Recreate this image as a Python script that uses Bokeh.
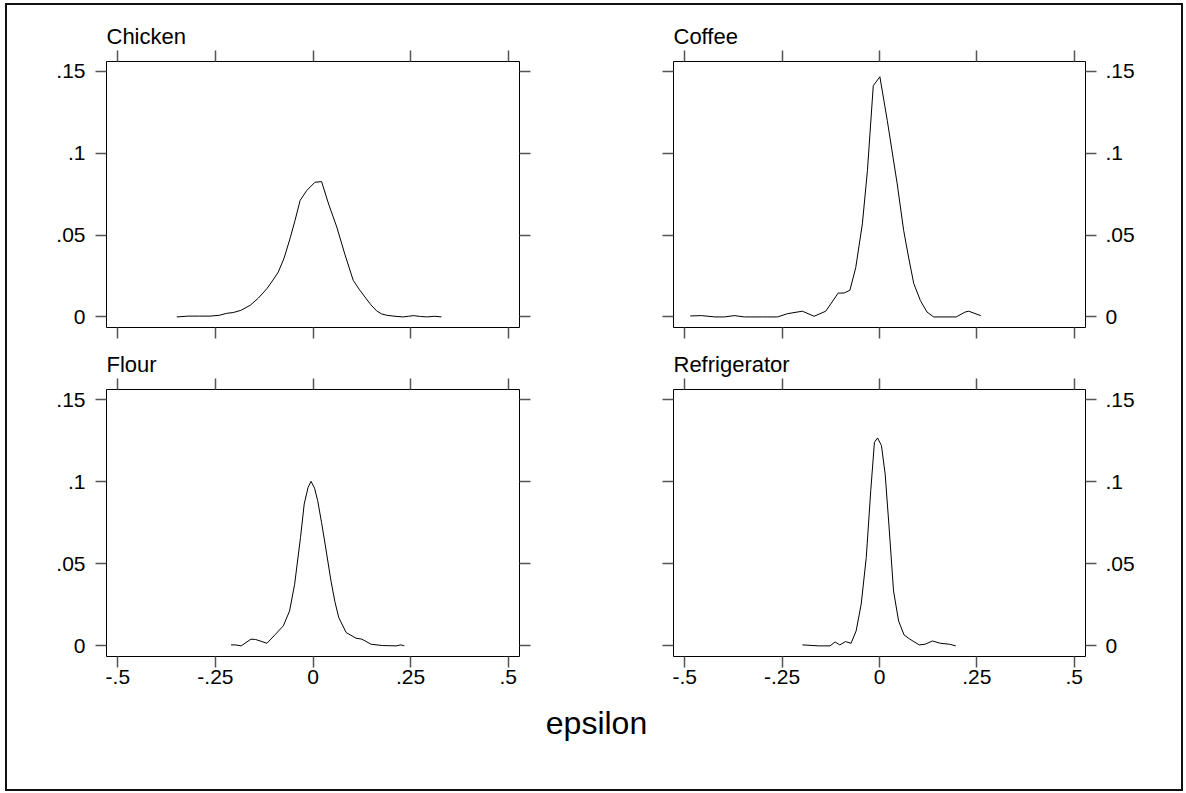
from bokeh.plotting import figure
from bokeh.models import Range1d, LinearAxis, FixedTicker, Label
from bokeh.layouts import column, row
from bokeh.embed import file_html
from bokeh.resources import INLINE

# ---------------- data ----------------
x_ticks = [-0.5, -0.25, 0, 0.25, 0.5]
x_tick_labels = ["-.5", "-.25", "0", ".25", ".5"]
y_ticks = [0, 0.05, 0.1, 0.15]
y_tick_labels = ["0", ".05", ".1", ".15"]

panel_titles = ["Chicken", "Coffee", "Flour", "Refrigerator"]
x_axis_title = "epsilon"

chicken_x = [-0.349, -0.32, -0.29, -0.264, -0.240, -0.221, -0.204, -0.185, -0.161, -0.140,
             -0.118, -0.104, -0.089, -0.074, -0.059, -0.046, -0.033, -0.016, 0.005, 0.022,
             0.040, 0.061, 0.082, 0.103, 0.118, 0.133, 0.148, 0.163, 0.176, 0.189,
             0.210, 0.231, 0.245, 0.257, 0.275, 0.291, 0.312, 0.329]
chicken_y = [0.0, 0.0005, 0.0005, 0.0005, 0.001, 0.0022, 0.0027, 0.004, 0.0071, 0.0115,
             0.0173, 0.022, 0.0274, 0.036, 0.0478, 0.059, 0.0712, 0.0773, 0.0823, 0.0827,
             0.069, 0.0549, 0.038, 0.0224, 0.017, 0.0122, 0.0075, 0.0037, 0.0018, 0.001,
             0.0004, 0.0, 0.0004, 0.0008, 0.0003, 0.0, 0.0004, 0.0]

coffee_x = [-0.486, -0.457, -0.423, -0.398, -0.373, -0.347, -0.30, -0.262, -0.236, -0.198,
            -0.168, -0.138, -0.106, -0.091, -0.076, -0.061, -0.044, -0.031, -0.016, 0.001,
            0.020, 0.0455, 0.062, 0.075, 0.088, 0.105, 0.122, 0.139, 0.197, 0.220,
            0.229, 0.260]
coffee_y = [0.0006, 0.0008, 0.0, 0.0, 0.0008, 0.0, 0.0, 0.0, 0.002, 0.0035,
            0.0004, 0.0035, 0.0146, 0.0146, 0.0163, 0.0301, 0.0569, 0.0894, 0.1413, 0.1468,
            0.120, 0.0813, 0.0529, 0.036, 0.0204, 0.010, 0.003, 0.0, 0.0, 0.003,
            0.0035, 0.0008]

flour_x = [-0.210, -0.199, -0.184, -0.159, -0.147, -0.118, -0.096, -0.076, -0.060, -0.047,
           -0.032, -0.0225, -0.0126, -0.005, 0.004, 0.012, 0.022, 0.031, 0.046, 0.056,
           0.066, 0.085, 0.110, 0.125, 0.149, 0.178, 0.213, 0.225, 0.234]
flour_y = [0.0006, 0.0006, 0.0, 0.0041, 0.0039, 0.0016, 0.0071, 0.0122, 0.0213, 0.0376,
           0.066, 0.0864, 0.0965, 0.1002, 0.096, 0.0884, 0.075, 0.062, 0.0396, 0.027,
           0.0173, 0.0081, 0.0047, 0.0041, 0.001, 0.0002, 0.0, 0.0006, 0.0]

fridge_x = [-0.198, -0.156, -0.127, -0.114, -0.102, -0.0875, -0.073, -0.060, -0.047, -0.034,
            -0.0225, -0.013, -0.005, 0.005, 0.0145, 0.024, 0.036, 0.049, 0.063, 0.078,
            0.102, 0.117, 0.136, 0.156, 0.180, 0.196]
fridge_y = [0.0006, 0.0, 0.0, 0.0024, 0.0006, 0.0026, 0.0016, 0.0091, 0.0254, 0.0538,
            0.0945, 0.124, 0.1266, 0.122, 0.1047, 0.0742, 0.0335, 0.0152, 0.0067, 0.0041,
            0.0006, 0.001, 0.003, 0.0016, 0.001, 0.0]

# ---------------- style ----------------
FONT = "Liberation Sans"
TICK_COLOR = "#555555"
LABEL_SIZE = "21px"
TITLE_SIZE = "22px"


def style_axis(ax, ticks, labels, show_labels, standoff):
    ax.ticker = FixedTicker(ticks=ticks)
    ax.axis_line_color = None
    ax.major_tick_in = 0
    ax.major_tick_out = 11
    ax.major_tick_line_color = TICK_COLOR
    ax.major_tick_line_width = 1.5
    ax.minor_tick_line_color = None
    ax.major_label_text_font = FONT
    ax.major_label_text_color = "black"
    if show_labels:
        ax.major_label_overrides = {t: l for t, l in zip(ticks, labels)}
        ax.major_label_text_font_size = LABEL_SIZE
        ax.major_label_standoff = standoff
    else:
        ax.major_label_overrides = {t: "" for t in ticks}
        ax.major_label_text_font_size = "1px"
        ax.major_label_standoff = 0


def make_panel(title, xs, ys, width, height, mbl, mbr, mbt, mbb,
               left_lab, right_lab, bottom_lab):
    p = figure(width=width, height=height, output_backend="svg", toolbar_location=None,
               x_range=Range1d(-0.529, 0.529), y_range=Range1d(-0.00646, 0.1561),
               x_axis_location=None, y_axis_location=None,
               min_border_left=mbl, min_border_right=mbr,
               min_border_top=mbt, min_border_bottom=mbb)
    p.xgrid.visible = False
    p.ygrid.visible = False
    p.outline_line_color = "black"
    p.outline_line_width = 1
    p.background_fill_color = "white"
    p.border_fill_color = "white"
    p.title.text = title
    p.title.text_font = FONT
    p.title.text_font_size = TITLE_SIZE
    p.title.text_font_style = "normal"
    p.title.text_color = "black"
    p.title.align = "left"
    p.title.offset = 0
    p.title.standoff = 3

    top = LinearAxis()
    style_axis(top, x_ticks, x_tick_labels, False, 0)
    p.add_layout(top, "above")
    bottom = LinearAxis()
    style_axis(bottom, x_ticks, x_tick_labels, bottom_lab, 2)
    p.add_layout(bottom, "below")
    left = LinearAxis()
    style_axis(left, y_ticks, y_tick_labels, left_lab, 10)
    p.add_layout(left, "left")
    right = LinearAxis()
    style_axis(right, y_ticks, y_tick_labels, right_lab, 9)
    p.add_layout(right, "right")

    p.line(xs, ys, line_color="black", line_width=1)
    return p


p1 = make_panel(panel_titles[0], chicken_x, chicken_y, 589, 338, 99, 77, 56, 16, True, False, False)
p2 = make_panel(panel_titles[1], coffee_x, coffee_y, 585, 338, 77, 96, 56, 16, False, True, False)
p3 = make_panel(panel_titles[2], flour_x, flour_y, 589, 362, 99, 77, 46, 49, True, False, True)
p4 = make_panel(panel_titles[3], fridge_x, fridge_y, 585, 362, 77, 96, 46, 49, False, True, True)

p5 = figure(width=1174, height=84, output_backend="svg", toolbar_location=None,
            x_range=Range1d(0, 1), y_range=Range1d(0, 1),
            x_axis_location=None, y_axis_location=None,
            min_border_left=0, min_border_right=0, min_border_top=0, min_border_bottom=0)
p5.xgrid.visible = False
p5.ygrid.visible = False
p5.outline_line_color = None
p5.border_fill_color = "white"
p5.add_layout(Label(x=589, y=67, x_units="screen", y_units="screen", text=x_axis_title,
                    text_align="center", text_baseline="alphabetic",
                    text_font=FONT, text_font_size="32px", text_color="black"))

layout = column(row(p1, p2), row(p3, p4), p5,
                styles={"border": "2px solid #111111", "margin-left": "5px",
                        "margin-top": "3px"})

open("out.html", "w").write(file_html(layout, INLINE))
